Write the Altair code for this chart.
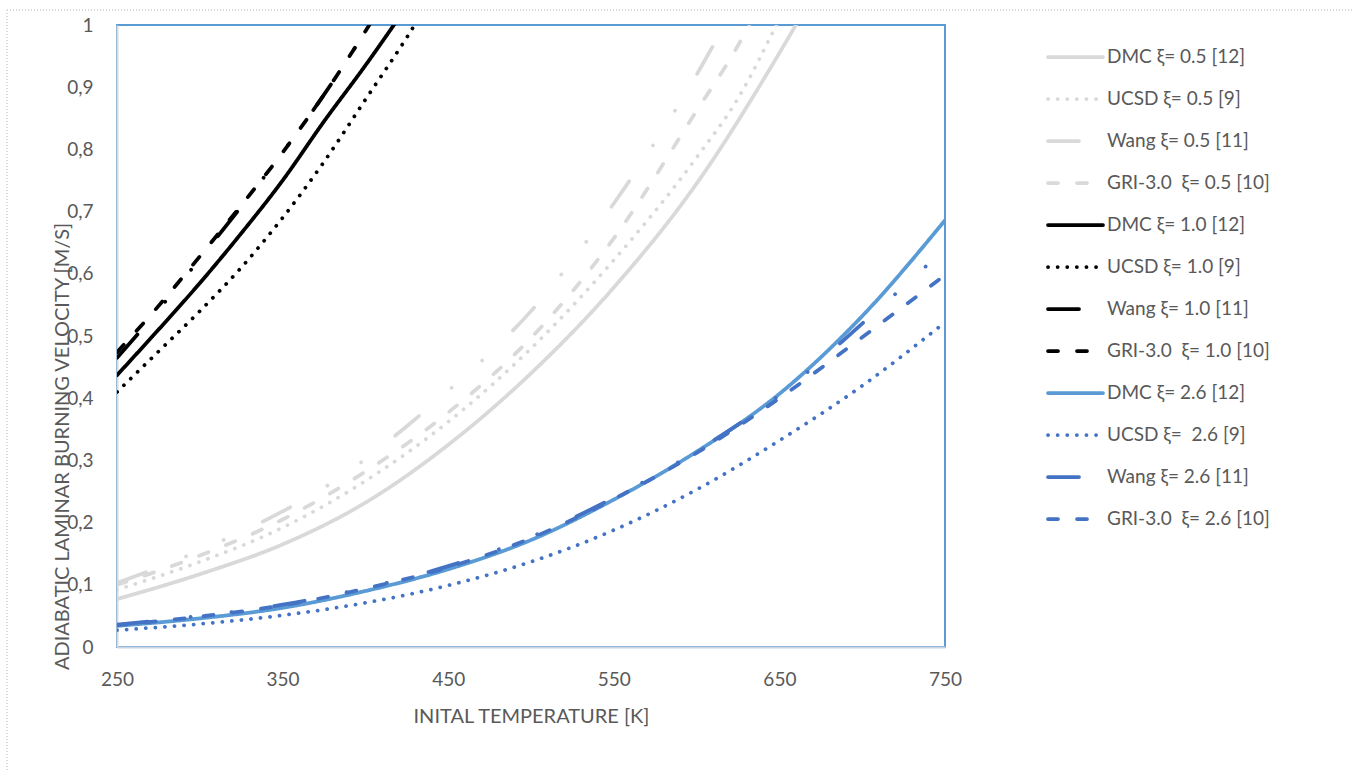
import altair as alt
import pandas as pd

# ---------------- data ----------------
names = [
    "DMC ξ= 0.5 [12]", "UCSD ξ= 0.5 [9]", "Wang ξ= 0.5 [11]", "GRI-3.0\u00a0 ξ= 0.5 [10]",
    "DMC ξ= 1.0 [12]", "UCSD ξ= 1.0 [9]", "Wang ξ= 1.0 [11]", "GRI-3.0\u00a0 ξ= 1.0 [10]",
    "DMC ξ= 2.6 [12]", "UCSD ξ=\u00a0 2.6 [9]", "Wang ξ= 2.6 [11]", "GRI-3.0\u00a0 ξ= 2.6 [10]",
]

# xi = 0.5 (grey)
t_dmc_05 = [250, 300, 350, 400, 450, 500, 550, 600, 650, 675]
v_dmc_05 = [0.077, 0.117, 0.165, 0.232, 0.325, 0.44, 0.578, 0.745, 0.955, 1.07]
t_ucsd_05 = [250, 300, 350, 400, 450, 500, 550, 600, 625, 650, 675]
v_ucsd_05 = [0.092, 0.137, 0.192, 0.267, 0.362, 0.48, 0.622, 0.787, 0.882, 1.01, 1.15]
t_wang_05 = [250, 275, 300, 325, 350, 375, 400, 425, 450, 475, 500, 525, 550, 575, 600, 625]
v_wang_05 = [0.103, 0.128, 0.155, 0.185, 0.218, 0.256, 0.302, 0.355, 0.412, 0.472,
             0.54, 0.622, 0.713, 0.812, 0.92, 1.04]
t_gri_05 = [250, 300, 350, 400, 450, 500, 550, 600, 625, 650]
v_gri_05 = [0.1, 0.147, 0.205, 0.282, 0.377, 0.497, 0.657, 0.862, 0.967, 1.1]

# xi = 1.0 (black)
t_dmc_10 = [250, 275, 300, 325, 350, 375, 400, 425]
v_dmc_10 = [0.437, 0.51, 0.585, 0.665, 0.75, 0.845, 0.935, 1.03]
t_ucsd_10 = [250, 275, 300, 325, 350, 375, 400, 425, 450]
v_ucsd_10 = [0.41, 0.475, 0.54, 0.61, 0.69, 0.78, 0.88, 0.98, 1.09]
t_wang_10 = [250, 275, 300, 325, 350, 375, 400, 425]
v_wang_10 = [0.465, 0.542, 0.624, 0.708, 0.795, 0.888, 0.99, 1.1]
t_gri_10 = [250, 275, 300, 325, 350, 375, 400, 425]
v_gri_10 = [0.474, 0.548, 0.628, 0.71, 0.795, 0.888, 0.99, 1.1]

# xi = 2.6 (blue)
t_26 = [250, 300, 350, 400, 450, 500, 550, 600, 650, 700, 750]
v_dmc_26 = [0.034, 0.046, 0.063, 0.09, 0.125, 0.172, 0.237, 0.314, 0.407, 0.532, 0.686]
v_ucsd_26 = [0.027, 0.037, 0.051, 0.071, 0.099, 0.137, 0.188, 0.253, 0.332, 0.42, 0.522]
v_wang_26 = [0.036, 0.05, 0.068, 0.095, 0.13, 0.177, 0.24, 0.315, 0.405, 0.52, 0.64]
v_gri_26 = [0.035, 0.049, 0.067, 0.094, 0.128, 0.175, 0.238, 0.312, 0.40, 0.498, 0.598]

x_ticks = [250, 350, 450, 550, 650, 750]
y_ticks = [0, 0.1, 0.2, 0.3, 0.4, 0.5, 0.6, 0.7, 0.8, 0.9, 1.0]

series_data = [
    (t_dmc_05, v_dmc_05), (t_ucsd_05, v_ucsd_05), (t_wang_05, v_wang_05), (t_gri_05, v_gri_05),
    (t_dmc_10, v_dmc_10), (t_ucsd_10, v_ucsd_10), (t_wang_10, v_wang_10), (t_gri_10, v_gri_10),
    (t_26, v_dmc_26), (t_26, v_ucsd_26), (t_26, v_wang_26), (t_26, v_gri_26),
]

frames = []
for i, (name, (ts, vs)) in enumerate(zip(names, series_data)):
    frames.append(pd.DataFrame({"T": ts, "v": vs, "series": name, "k": i}))
df = pd.concat(frames, ignore_index=True)
leg_df = pd.DataFrame({"series": names})

# ---------------- styles ----------------
GREY = "#D9D9D9"
BLACK = "#000000"
LBLUE = "#5B9BD5"
BLUE = "#4472C4"
colors = [GREY] * 4 + [BLACK] * 4 + [LBLUE, BLUE, BLUE, BLUE]
solid = [1, 0]
dot = [0.1, 9.5]
longdd = [31, 43, 0.1, 41, 0.1, 43]
dash = [10, 19]
dashes = [solid, dot, longdd, dash] * 3

FONT = "Lato"
TXT = "#595959"
SW = 3.75

color_enc = alt.Color("series:N", scale=alt.Scale(domain=names, range=colors), legend=None)
dash_enc = alt.StrokeDash("series:N", scale=alt.Scale(domain=names, range=dashes), legend=None)

lines = alt.Chart(df).mark_line(
    clip=True, strokeWidth=SW, strokeCap="round", strokeJoin="round", interpolate="monotone"
).encode(
    x=alt.X("T:Q", scale=alt.Scale(domain=[250, 750], nice=False, zero=False),
            axis=alt.Axis(values=x_ticks, title="INITAL TEMPERATURE [K]", ticks=False,
                          labelPadding=23, labelFlush=False, labelOverlap=False,
                          domainColor="#C9D5E3", domainWidth=2, grid=False,
                          titleY=69, titleBaseline="middle", titleFontSize=20)),
    y=alt.Y("v:Q", scale=alt.Scale(domain=[0, 1], nice=False),
            axis=alt.Axis(values=y_ticks, title="ADIABATIC LAMINAR BURNING VELOCITY [M/S]",
                          labelExpr="replace(format(datum.value, '.1~f'), '.', ',')",
                          ticks=False, labelPadding=24, labelBaseline="middle",
                          labelFlush=False, labelOverlap=False,
                          domainColor=GREY, domainWidth=2, grid=False,
                          titleX=-55, titleY=421, titleAngle=270, titleFontSize=20,
                          titleAlign="center", titleBaseline="middle")),
    color=color_enc,
    strokeDash=dash_enc,
    order=alt.Order("T:Q"),
)

leg_y = alt.Y("series:N", scale=alt.Scale(type="point", domain=names, range=[32, 494], padding=0),
              axis=None)

leg_rule = alt.Chart(leg_df).mark_rule(strokeWidth=SW, strokeCap="round").encode(
    x=alt.value(931), x2=alt.value(986), y=leg_y, color=color_enc, strokeDash=dash_enc,
)
leg_text = alt.Chart(leg_df).mark_text(
    align="left", baseline="middle", font=FONT, fontSize=19, color=TXT
).encode(x=alt.value(990), y=leg_y, text="series:N")

frame_top = alt.Chart(leg_df).mark_rule(color=GREY, strokeWidth=1, strokeDash=[1, 2]).encode(
    x=alt.value(-110), x2=alt.value(1240), y=alt.value(-15)
)
frame_left = alt.Chart(leg_df).mark_rule(color=GREY, strokeWidth=1, strokeDash=[1, 2]).encode(
    x=alt.value(-110), y=alt.value(-15), y2=alt.value(750)
)

chart = alt.layer(frame_top, frame_left, lines, leg_rule, leg_text).resolve_scale(
    y="independent"
).properties(
    width=828, height=622,
    autosize=alt.AutoSizeParams(type="none"),
    padding={"left": 117, "top": 25, "right": 409, "bottom": 125},
    background="white",
).configure_view(
    stroke=LBLUE, strokeWidth=2
).configure_axis(
    labelFont=FONT, labelFontSize=19, labelColor=TXT,
    titleFont=FONT, titleFontSize=19, titleColor=TXT, titleFontWeight="normal",
)

chart.save("out.html", embed_options={"renderer": "svg", "actions": False})
